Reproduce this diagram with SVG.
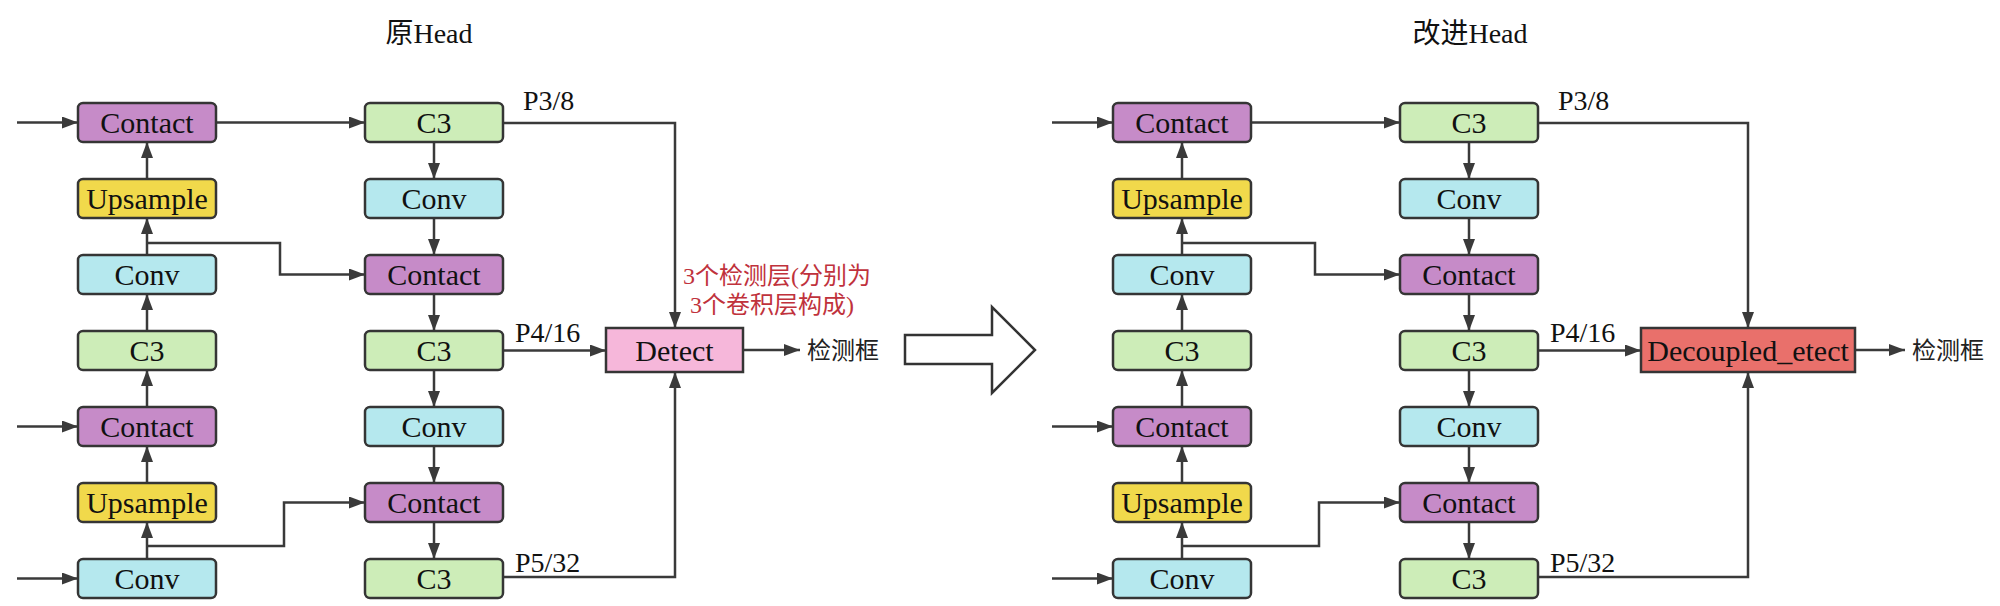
<svg xmlns="http://www.w3.org/2000/svg" width="2000" height="606" viewBox="0 0 2000 606" font-family="'Liberation Serif', 'Noto Sans CJK SC', serif">
<style>
.box{stroke:#353535;stroke-width:2.5}
.contact{fill:#c68bc8}
.up{fill:#f1d94b}
.conv{fill:#b5e8ee}
.c3{fill:#cdedb8}
.lbl{font-family:"Liberation Serif",serif;font-size:30px;fill:#111;text-anchor:middle}
.p{font-family:"Liberation Serif",serif;font-size:28px;fill:#111}
.cn{font-family:"Liberation Serif","Noto Sans CJK SC",serif;font-size:24px;fill:#222}
.red{font-family:"Liberation Serif","Noto Sans CJK SC",serif;font-size:24px;fill:#c0323c}
.title{font-family:"Liberation Serif","Noto Sans CJK SC",serif;font-size:28px;fill:#111;text-anchor:middle}
.ln{fill:none;stroke:#3a3a3a;stroke-width:2.5}
.ar{marker-end:url(#ah)}
</style>
<defs>
<marker id="ah" markerUnits="userSpaceOnUse" markerWidth="16" markerHeight="12" refX="16" refY="6" orient="auto">
<path d="M0,0 L16,6 L0,12 z" fill="#3a3a3a"/>
</marker>
</defs>
<rect width="2000" height="606" fill="#fff"/>
<text class="title" x="429" y="43">原Head</text>
<text class="title" x="1470" y="43">改进Head</text>

<!-- LEFT DIAGRAM -->
<g id="left-connectors">
<line class="ln ar" x1="17" y1="122.5" x2="78" y2="122.5"/>
<line class="ln ar" x1="17" y1="426.5" x2="78" y2="426.5"/>
<line class="ln ar" x1="17" y1="578.5" x2="78" y2="578.5"/>
<line class="ln ar" x1="147" y1="559" x2="147" y2="522"/>
<line class="ln ar" x1="147" y1="483" x2="147" y2="446"/>
<line class="ln ar" x1="147" y1="407" x2="147" y2="370"/>
<line class="ln ar" x1="147" y1="331" x2="147" y2="294"/>
<line class="ln ar" x1="147" y1="255" x2="147" y2="218"/>
<line class="ln ar" x1="147" y1="179" x2="147" y2="142"/>
<polyline class="ln ar" points="147,243 280,243 280,274.5 365,274.5"/>
<polyline class="ln ar" points="147,546 284,546 284,502.5 365,502.5"/>
<line class="ln ar" x1="216" y1="122.5" x2="365" y2="122.5"/>
<line class="ln ar" x1="434" y1="142" x2="434" y2="179"/>
<line class="ln ar" x1="434" y1="218" x2="434" y2="255"/>
<line class="ln ar" x1="434" y1="294" x2="434" y2="331"/>
<line class="ln ar" x1="434" y1="370" x2="434" y2="407"/>
<line class="ln ar" x1="434" y1="446" x2="434" y2="483"/>
<line class="ln ar" x1="434" y1="522" x2="434" y2="559"/>
<polyline class="ln ar" points="503,123 675,123 675,328"/>
<line class="ln ar" x1="503" y1="350.5" x2="606" y2="350.5"/>
<polyline class="ln ar" points="503,577 675,577 675,372"/>
<line class="ln ar" x1="743" y1="350" x2="800" y2="350"/>
</g>
<g id="L-contact1"><rect class="box contact" x="78" y="103" width="138" height="39" rx="5"/><text class="lbl" x="147" y="133">Contact</text></g>
<g id="L-upsample1"><rect class="box up" x="78" y="179" width="138" height="39" rx="5"/><text class="lbl" x="147" y="209">Upsample</text></g>
<g id="L-conv1"><rect class="box conv" x="78" y="255" width="138" height="39" rx="5"/><text class="lbl" x="147" y="285">Conv</text></g>
<g id="L-c3a"><rect class="box c3" x="78" y="331" width="138" height="39" rx="5"/><text class="lbl" x="147" y="361">C3</text></g>
<g id="L-contact2"><rect class="box contact" x="78" y="407" width="138" height="39" rx="5"/><text class="lbl" x="147" y="437">Contact</text></g>
<g id="L-upsample2"><rect class="box up" x="78" y="483" width="138" height="39" rx="5"/><text class="lbl" x="147" y="513">Upsample</text></g>
<g id="L-conv2"><rect class="box conv" x="78" y="559" width="138" height="39" rx="5"/><text class="lbl" x="147" y="589">Conv</text></g>
<g id="L-c3b"><rect class="box c3" x="365" y="103" width="138" height="39" rx="5"/><text class="lbl" x="434" y="133">C3</text></g>
<g id="L-conv3"><rect class="box conv" x="365" y="179" width="138" height="39" rx="5"/><text class="lbl" x="434" y="209">Conv</text></g>
<g id="L-contact3"><rect class="box contact" x="365" y="255" width="138" height="39" rx="5"/><text class="lbl" x="434" y="285">Contact</text></g>
<g id="L-c3c"><rect class="box c3" x="365" y="331" width="138" height="39" rx="5"/><text class="lbl" x="434" y="361">C3</text></g>
<g id="L-conv4"><rect class="box conv" x="365" y="407" width="138" height="39" rx="5"/><text class="lbl" x="434" y="437">Conv</text></g>
<g id="L-contact4"><rect class="box contact" x="365" y="483" width="138" height="39" rx="5"/><text class="lbl" x="434" y="513">Contact</text></g>
<g id="L-c3d"><rect class="box c3" x="365" y="559" width="138" height="39" rx="5"/><text class="lbl" x="434" y="589">C3</text></g>
<g id="L-detect"><rect class="box" fill="#f6b7da" x="606" y="328" width="137" height="44"/><text class="lbl" x="674.5" y="361">Detect</text></g>
<text class="p" x="523" y="110">P3/8</text>
<text class="p" x="515" y="342">P4/16</text>
<text class="p" x="515" y="572">P5/32</text>
<text class="red" x="683" y="284">3个检测层(分别为</text>
<text class="red" x="690" y="313">3个卷积层构成)</text>
<text class="cn" x="807" y="359">检测框</text>

<!-- MIDDLE ARROW -->
<g id="big-arrow"><polygon points="905,335 992,335 992,307 1035,350 992,393 992,364 905,364" fill="#fff" stroke="#333" stroke-width="2.5" stroke-linejoin="miter"/></g>

<!-- RIGHT DIAGRAM -->
<g id="right-connectors">
<g transform="translate(1035,0)">
<line class="ln ar" x1="17" y1="122.5" x2="78" y2="122.5"/>
<line class="ln ar" x1="17" y1="426.5" x2="78" y2="426.5"/>
<line class="ln ar" x1="17" y1="578.5" x2="78" y2="578.5"/>
<line class="ln ar" x1="147" y1="559" x2="147" y2="522"/>
<line class="ln ar" x1="147" y1="483" x2="147" y2="446"/>
<line class="ln ar" x1="147" y1="407" x2="147" y2="370"/>
<line class="ln ar" x1="147" y1="331" x2="147" y2="294"/>
<line class="ln ar" x1="147" y1="255" x2="147" y2="218"/>
<line class="ln ar" x1="147" y1="179" x2="147" y2="142"/>
<polyline class="ln ar" points="147,243 280,243 280,274.5 365,274.5"/>
<polyline class="ln ar" points="147,546 284,546 284,502.5 365,502.5"/>
<line class="ln ar" x1="216" y1="122.5" x2="365" y2="122.5"/>
<line class="ln ar" x1="434" y1="142" x2="434" y2="179"/>
<line class="ln ar" x1="434" y1="218" x2="434" y2="255"/>
<line class="ln ar" x1="434" y1="294" x2="434" y2="331"/>
<line class="ln ar" x1="434" y1="370" x2="434" y2="407"/>
<line class="ln ar" x1="434" y1="446" x2="434" y2="483"/>
<line class="ln ar" x1="434" y1="522" x2="434" y2="559"/>
</g>
<polyline class="ln ar" points="1538,123 1748,123 1748,328"/>
<line class="ln ar" x1="1538" y1="350.5" x2="1641" y2="350.5"/>
<polyline class="ln ar" points="1538,577 1748,577 1748,372"/>
<line class="ln ar" x1="1855" y1="350" x2="1905" y2="350"/>
</g>
<g transform="translate(1035,0)">
<g id="R-contact1"><rect class="box contact" x="78" y="103" width="138" height="39" rx="5"/><text class="lbl" x="147" y="133">Contact</text></g>
<g id="R-upsample1"><rect class="box up" x="78" y="179" width="138" height="39" rx="5"/><text class="lbl" x="147" y="209">Upsample</text></g>
<g id="R-conv1"><rect class="box conv" x="78" y="255" width="138" height="39" rx="5"/><text class="lbl" x="147" y="285">Conv</text></g>
<g id="R-c3a"><rect class="box c3" x="78" y="331" width="138" height="39" rx="5"/><text class="lbl" x="147" y="361">C3</text></g>
<g id="R-contact2"><rect class="box contact" x="78" y="407" width="138" height="39" rx="5"/><text class="lbl" x="147" y="437">Contact</text></g>
<g id="R-upsample2"><rect class="box up" x="78" y="483" width="138" height="39" rx="5"/><text class="lbl" x="147" y="513">Upsample</text></g>
<g id="R-conv2"><rect class="box conv" x="78" y="559" width="138" height="39" rx="5"/><text class="lbl" x="147" y="589">Conv</text></g>
<g id="R-c3b"><rect class="box c3" x="365" y="103" width="138" height="39" rx="5"/><text class="lbl" x="434" y="133">C3</text></g>
<g id="R-conv3"><rect class="box conv" x="365" y="179" width="138" height="39" rx="5"/><text class="lbl" x="434" y="209">Conv</text></g>
<g id="R-contact3"><rect class="box contact" x="365" y="255" width="138" height="39" rx="5"/><text class="lbl" x="434" y="285">Contact</text></g>
<g id="R-c3c"><rect class="box c3" x="365" y="331" width="138" height="39" rx="5"/><text class="lbl" x="434" y="361">C3</text></g>
<g id="R-conv4"><rect class="box conv" x="365" y="407" width="138" height="39" rx="5"/><text class="lbl" x="434" y="437">Conv</text></g>
<g id="R-contact4"><rect class="box contact" x="365" y="483" width="138" height="39" rx="5"/><text class="lbl" x="434" y="513">Contact</text></g>
<g id="R-c3d"><rect class="box c3" x="365" y="559" width="138" height="39" rx="5"/><text class="lbl" x="434" y="589">C3</text></g>
</g>
<g id="R-decoupled"><rect class="box" fill="#e9706b" x="1641" y="328" width="214" height="44"/><text class="lbl" x="1748" y="361">Decoupled_etect</text></g>
<text class="p" x="1558" y="110">P3/8</text>
<text class="p" x="1550" y="342">P4/16</text>
<text class="p" x="1550" y="572">P5/32</text>
<text class="cn" x="1912" y="359">检测框</text>
</svg>
